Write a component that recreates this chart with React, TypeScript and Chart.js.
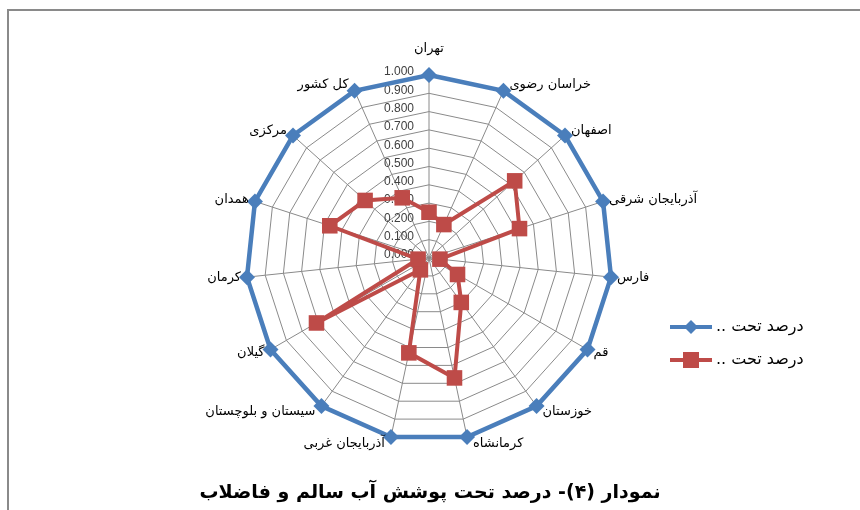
import React, { useEffect, useRef } from "react";
import { Chart, registerables } from "chart.js";

Chart.register(...registerables);

const categories = [
  "تهران",
  "خراسان رضوی",
  "اصفهان",
  "آذربایجان شرقی",
  "فارس",
  "قم",
  "خوزستان",
  "کرمانشاه",
  "آذربایجان غربی",
  "سیستان و بلوچستان",
  "گیلان",
  "کرمان",
  "همدان",
  "مرکزی",
  "کل کشور",
];
const seriesBlue = [1, 1, 1, 1, 1, 1, 1, 1, 1, 1, 1, 1, 1, 1, 1];
const seriesRed = [0.25, 0.2, 0.63, 0.52, 0.06, 0.18, 0.3, 0.67, 0.53, 0.08, 0.71, 0.06, 0.57, 0.47, 0.36];
const legendLabels = ["درصد تحت ..", "درصد تحت .."];
const tickValues = [0, 0.1, 0.2, 0.3, 0.4, 0.5, 0.6, 0.7, 0.8, 0.9, 1.0];
const titleText = "نمودار (۴)- درصد تحت پوشش آب سالم و فاضلاب";

const BLUE = "#4a7ebb";
const RED = "#be4b48";

const overlayPlugin = {
  id: "overlay",
  beforeDatasetsDraw(chart: any) {
    const ctx = chart.ctx;
    const s = chart.scales.r;
    ctx.save();
    ctx.font = '12px "Liberation Sans"';
    ctx.fillStyle = "#404040";
    ctx.textAlign = "right";
    ctx.textBaseline = "middle";
    for (const v of tickValues) {
      const d = s.getDistanceFromCenterForValue(v);
      ctx.fillText(v.toFixed(3), s.xCenter - 15, s.yCenter - d - 3);
    }
    ctx.restore();
  },
  afterDraw(chart: any) {
    const ctx = chart.ctx;
    const s = chart.scales.r;
    ctx.save();
    // point labels
    ctx.font = '13px "DejaVu Sans"';
    ctx.fillStyle = "#000";
    ctx.direction = "rtl";
    categories.forEach((lab, i) => {
      const p = s.getPointPosition(i, s.drawingArea);
      const th = p.angle + Math.PI / 2;
      const sn = Math.sin(th);
      const cs = Math.cos(th);
      if (Math.abs(sn) < 0.1 && cs > 0) {
        ctx.textAlign = "center";
        ctx.textBaseline = "bottom";
        ctx.fillText(lab, p.x, p.y - 20);
        return;
      }
      ctx.textBaseline = "middle";
      if (sn > 0) {
        ctx.textAlign = "left";
        ctx.fillText(lab, p.x + 6, p.y - 7 * cs);
      } else {
        ctx.textAlign = "right";
        ctx.fillText(lab, p.x - 6, p.y - 7 * cs);
      }
    });

    // legend
    const items = [
      { color: BLUE, style: "diamond", y: 327 },
      { color: RED, style: "square", y: 360 },
    ];
    items.forEach((it, k) => {
      ctx.strokeStyle = it.color;
      ctx.fillStyle = it.color;
      ctx.lineWidth = 4;
      ctx.beginPath();
      ctx.moveTo(670, it.y);
      ctx.lineTo(712, it.y);
      ctx.stroke();
      ctx.beginPath();
      if (it.style === "diamond") {
        ctx.moveTo(691, it.y - 7);
        ctx.lineTo(698, it.y);
        ctx.lineTo(691, it.y + 7);
        ctx.lineTo(684, it.y);
        ctx.closePath();
      } else {
        ctx.rect(683, it.y - 8, 16, 16);
      }
      ctx.fill();
      ctx.fillStyle = "#000";
      ctx.font = '16px "DejaVu Sans"';
      ctx.textAlign = "left";
      ctx.textBaseline = "middle";
      ctx.fillText(legendLabels[k], 716, it.y);
    });

    // title
    ctx.font = 'bold 19px "DejaVu Sans"';
    ctx.fillStyle = "#000";
    ctx.textAlign = "center";
    ctx.textBaseline = "middle";
    ctx.fillText(titleText, 430, 493);
    ctx.restore();
  },
};

export default function App() {
  const ref = useRef<HTMLCanvasElement | null>(null);
  useEffect(() => {
    if (!ref.current) return;
    const chart = new Chart(ref.current, {
      type: "radar",
      data: {
        labels: categories,
        datasets: [
          {
            label: legendLabels[0],
            data: seriesBlue,
            borderColor: BLUE,
            backgroundColor: BLUE,
            borderWidth: 4.5,
            pointStyle: "rectRot",
            pointRadius: 8,
            pointBackgroundColor: BLUE,
            pointBorderWidth: 0,
            fill: false,
          },
          {
            label: legendLabels[1],
            data: seriesRed,
            borderColor: RED,
            backgroundColor: RED,
            borderWidth: 4,
            pointStyle: "rect",
            pointRadius: 11,
            pointBackgroundColor: RED,
            pointBorderWidth: 0,
            fill: false,
          },
        ],
      },
      options: {
        animation: false,
        responsive: false,
        plugins: {
          legend: { display: false },
          tooltip: { enabled: false },
        },
        elements: { line: { tension: 0 } },
        scales: {
          r: {
            min: 0,
            max: 1,
            ticks: { display: false, stepSize: 0.1 },
            grid: { color: "#8a8a8a", lineWidth: 1 },
            angleLines: { color: "#8a8a8a", lineWidth: 1 },
            pointLabels: { display: false },
            afterFit: (sc: any) => {
              sc.xCenter = 429;
              sc.yCenter = 258;
              sc.drawingArea = 183;
            },
          } as any,
        },
      },
      plugins: [overlayPlugin],
    });
    return () => chart.destroy();
  }, []);
  return (
    <div style={{ position: "absolute", left: 0, top: 0, width: 860, height: 510, background: "#fff" }}>
      <div
        style={{
          position: "absolute",
          left: 7,
          top: 9,
          width: 860,
          height: 510,
          borderTop: "2px solid #8a8a8a",
          borderLeft: "2px solid #8a8a8a",
        }}
      />
      <canvas ref={ref} width={860} height={510} style={{ position: "absolute", left: 0, top: 0 }} />
    </div>
  );
}
